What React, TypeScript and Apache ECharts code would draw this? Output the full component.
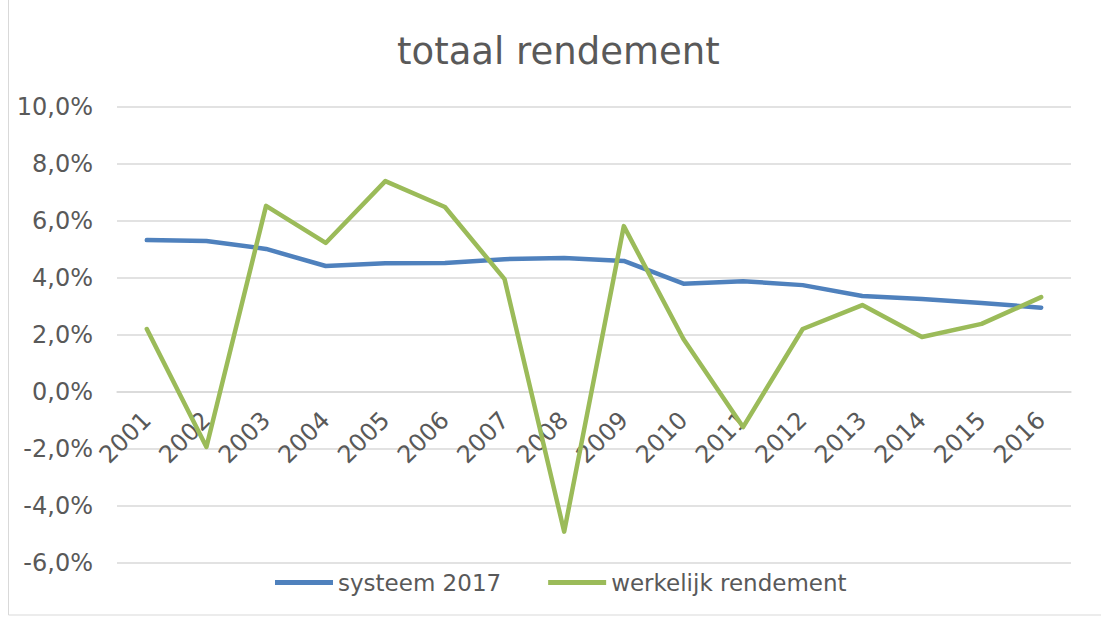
import React, { useEffect, useRef } from "react";
import * as echarts from "echarts";

const years = ["2001","2002","2003","2004","2005","2006","2007","2008","2009","2010","2011","2012","2013","2014","2015","2016"];
const systeem2017 = [5.33, 5.30, 5.02, 4.42, 4.52, 4.53, 4.66, 4.70, 4.60, 3.80, 3.89, 3.75, 3.37, 3.26, 3.12, 2.96];
const werkelijk = [2.21, -1.93, 6.53, 5.23, 7.40, 6.49, 3.96, -4.90, 5.82, 1.86, -1.23, 2.21, 3.05, 1.93, 2.39, 3.33];

const FONT = "DejaVu Sans";
const Y_MIN = -6;
const Y_MAX = 10;

export default function App() {
  const ref = useRef<HTMLDivElement>(null);
  useEffect(() => {
    const chart = echarts.init(ref.current!, null, { renderer: "svg" });
    const gridTop = 107;
    const gridBottom = 56;
    const plotH = 619 - gridTop - gridBottom;
    const zeroOffset = -(plotH * (0 - Y_MIN)) / (Y_MAX - Y_MIN);
    chart.setOption({
      animation: false,
      backgroundColor: "#ffffff",
      textStyle: { fontFamily: FONT },
      title: {
        text: "totaal rendement",
        left: 397,
        top: 33,
        padding: 0,
        textStyle: { fontFamily: FONT, fontSize: 37, fontWeight: "normal", color: "#595959" },
      },
      graphic: [
        {
          type: "rect",
          shape: { x: 8.5, y: -2, width: 1200, height: 617 },
          style: { fill: "none", stroke: "#d9d9d9", lineWidth: 1 },
          silent: true,
        },
      ],
      legend: {
        bottom: 20,
        left: 270,
        itemWidth: 58,
        itemHeight: 5,
        itemGap: 47,
        icon: "rect",
        textStyle: { fontFamily: FONT, fontSize: 23, color: "#595959" },
        data: ["systeem 2017", "werkelijk rendement"],
      },
      grid: { left: 117, right: 30, top: gridTop, bottom: gridBottom, containLabel: false },
      xAxis: {
        type: "category",
        data: years,
        boundaryGap: true,
        offset: zeroOffset,
        axisLine: { show: true, onZero: false, lineStyle: { color: "#d9d9d9", width: 1.5 } },
        axisTick: { show: false },
        axisLabel: { rotate: 45, fontFamily: FONT, fontSize: 24, color: "#595959", margin: 24, interval: 0 },
        splitLine: { show: false },
      },
      yAxis: {
        type: "value",
        min: Y_MIN,
        max: Y_MAX,
        interval: 2,
        axisLine: { show: false },
        axisTick: { show: false },
        axisLabel: {
          fontFamily: FONT,
          fontSize: 24,
          color: "#595959",
          margin: 24,
          formatter: (v: number) => v.toFixed(1).replace(".", ",") + "%",
        },
        splitLine: { lineStyle: { color: "#d9d9d9", width: 1.5 } },
      },
      series: [
        {
          name: "systeem 2017",
          type: "line",
          data: systeem2017,
          showSymbol: false,
          symbol: "none",
          lineStyle: { color: "#4f81bd", width: 4.5, cap: "round", join: "round" },
          itemStyle: { color: "#4f81bd" },
        },
        {
          name: "werkelijk rendement",
          type: "line",
          data: werkelijk,
          showSymbol: false,
          symbol: "none",
          lineStyle: { color: "#9bbb59", width: 4.5, cap: "round", join: "round" },
          itemStyle: { color: "#9bbb59" },
        },
      ],
    });
    return () => chart.dispose();
  }, []);
  return (
    <div
      ref={ref}
      style={{ position: "absolute", left: 0, top: 0, width: 1101, height: 619 }}
    />
  );
}
